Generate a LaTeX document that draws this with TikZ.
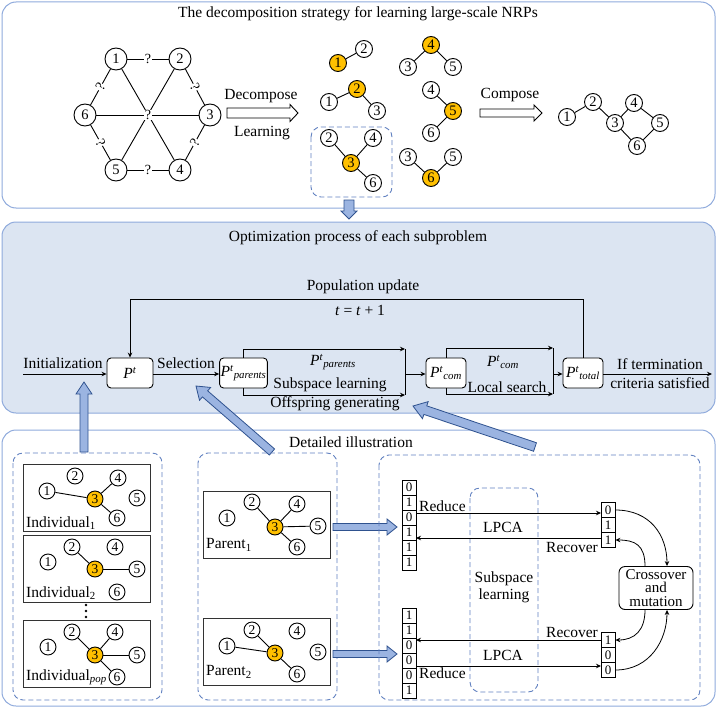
\documentclass[tikz,border=0pt]{standalone}
\usepackage{fontspec}
\setmainfont{Liberation Serif}
\newfontfamily\tnr{Liberation Serif}
\usetikzlibrary{calc,arrows.meta}
\definecolor{panelblue}{RGB}{143,170,220}
\definecolor{midfill}{RGB}{220,229,242}
\definecolor{dashblue}{RGB}{96,128,192}
\definecolor{gold}{RGB}{255,192,0}
\definecolor{arrfill}{RGB}{155,180,225}
\definecolor{arrdraw}{RGB}{47,82,143}
\newcommand\Pv[1]{\textit{P}\textsuperscript{\textit{t}}\textsubscript{\textit{#1}}}
\newcommand\blockarr[6]{%
  \coordinate (bah) at ($(#3)!#6!(#2)$);
  \draw[#1] ($(#2)!#4!90:(#3)$) -- ($(bah)!#4!90:(#3)$) -- ($(bah)!#5!90:(#3)$) -- (#3)
    -- ($(bah)!#5!-90:(#3)$) -- ($(bah)!#4!-90:(#3)$) -- ($(#2)!#4!-90:(#3)$) -- cycle;}
\begin{document}
\begin{tikzpicture}[x=1pt,y=-1pt,
  panel/.style={draw=panelblue, line width=1pt, rounded corners=14pt},
  dbox/.style={draw=dashblue, dash pattern=on 5pt off 3pt, line width=0.9pt, rounded corners=10pt},
  lab/.style={font=\tnr\fontsize{15.5}{17}\selectfont, inner sep=0pt},
  vA/.style={circle, draw, line width=0.9pt, minimum size=22pt, inner sep=0pt, font=\tnr\fontsize{14.5}{14}\selectfont, fill=white},
  vB/.style={vA, minimum size=17pt},
  vC/.style={vA, minimum size=16pt, font=\tnr\fontsize{13.5}{13}\selectfont},
  hot/.style={fill=gold},
  ln/.style={draw, line width=0.9pt},
  q/.style={fill=white, inner sep=0.6pt, font=\tnr\fontsize{14}{14}\selectfont},
  pbox/.style={draw, rounded corners=4pt, fill=white, minimum height=30pt, inner sep=1pt, line width=0.9pt, font=\tnr\fontsize{15.5}{17}\selectfont},
  cell/.style={draw, minimum width=14pt, minimum height=15pt, inner sep=0pt, font=\tnr\fontsize{13}{12}\selectfont, line width=0.8pt},
  arr/.style={-{Stealth[length=5pt,width=4.5pt]}, line width=0.8pt},
  hollow/.style={draw, line width=0.9pt, fill=white},
  bluearr/.style={draw=arrdraw, fill=arrfill, line width=0.8pt},
  indbox/.style={draw=black!80, line width=0.9pt, minimum width=127pt, minimum height=67pt, inner sep=0pt}
]
\useasboundingbox (0,0) rectangle (720,709);
% panels
\draw[panel] (2,2) rectangle (715,208);
\draw[panel, fill=midfill] (2,222) rectangle (715,413);
\draw[panel] (2,430) rectangle (715,706);
\node[lab] (t1) at (358,14) {The decomposition strategy for learning large-scale NRPs};
\node[lab] (t2) at (358,238) {Optimization process of each subproblem};
\node[lab] (t3) at (351,442) {Detailed illustration};

% ---------- top: hexagon graph
\node[vA] (h1) at (116,59) {1};
\node[vA] (h2) at (180,59) {2};
\node[vA] (h3) at (210,115) {3};
\node[vA] (h4) at (180,170) {4};
\node[vA] (h5) at (116,170) {5};
\node[vA] (h6) at (85,115) {6};
\draw[ln] (h1) -- (h4);
\draw[ln] (h2) -- (h5);
\draw[ln] (h6) -- (h3);
\node[q] (qc) at (148,115) {?};
\draw[ln] (h1) -- node[q]{?} (h2);
\draw[ln] (h2) -- node[q,sloped]{?} (h3);
\draw[ln] (h3) -- node[q,sloped]{?} (h4);
\draw[ln] (h4) -- node[q]{?} (h5);
\draw[ln] (h5) -- node[q,sloped]{?} (h6);
\draw[ln] (h6) -- node[q,sloped]{?} (h1);

% decompose arrow
\coordinate (dA) at (227,113);
\coordinate (dB) at (298,113);
\blockarr{hollow}{dA}{dB}{5pt}{8.5pt}{8pt}
\node[lab] (tdec) at (261,96) {Decompose};
\node[lab] (tlea) at (262,133) {Learning};

% subgraphs
\node[vB,hot] (a1) at (338,63) {1};
\node[vB] (a2) at (364,49) {2};
\draw[ln] (a1) -- (a2);
\node[vB,hot] (b2) at (357,89) {2};
\node[vB] (b1) at (329,102) {1};
\node[vB] (b3) at (377,111) {3};
\draw[ln] (b2) -- (b1); \draw[ln] (b2) -- (b3);
\draw[dbox] (311,127) rectangle (392,197);
\node[vB] (c2) at (329,138) {2};
\node[vB] (c4) at (373,138) {4};
\node[vB,hot] (c3) at (351,163) {3};
\node[vB] (c6) at (373,183) {6};
\draw[ln] (c3) -- (c2); \draw[ln] (c3) -- (c4); \draw[ln] (c3) -- (c6);
\node[vB,hot] (d4) at (431,45) {4};
\node[vB] (d3) at (408,67) {3};
\node[vB] (d5) at (453,67) {5};
\draw[ln] (d4) -- (d3); \draw[ln] (d4) -- (d5);
\node[vB] (e4) at (431,90) {4};
\node[vB,hot] (e5) at (453,111) {5};
\node[vB] (e6) at (431,133) {6};
\draw[ln] (e5) -- (e4); \draw[ln] (e5) -- (e6);
\node[vB] (f3) at (408,157) {3};
\node[vB] (f5) at (453,157) {5};
\node[vB,hot] (f6) at (431,178) {6};
\draw[ln] (f6) -- (f3); \draw[ln] (f6) -- (f5);

% compose arrow
\coordinate (cA) at (480,113);
\coordinate (cB) at (542,113);
\blockarr{hollow}{cA}{cB}{4pt}{8pt}{8pt}
\node[lab] (tcom) at (510,95) {Compose};
\node[vB] (g1) at (567,117) {1};
\node[vB] (g2) at (593,102) {2};
\node[vB] (g3) at (615,123) {3};
\node[vB] (g4) at (634,103) {4};
\node[vB] (g5) at (660,123) {5};
\node[vB] (g6) at (637,146) {6};
\draw[ln] (g1) -- (g2); \draw[ln] (g2) -- (g3); \draw[ln] (g3) -- (g4);
\draw[ln] (g4) -- (g5); \draw[ln] (g5) -- (g6); \draw[ln] (g6) -- (g3);

% arrow top -> middle
\coordinate (tmA) at (349,200);
\coordinate (tmB) at (349,219);
\blockarr{bluearr}{tmA}{tmB}{5pt}{8pt}{8pt}

% ---------- middle panel
\node[lab] (tpop) at (363,287) {Population update};
\node[lab] (tt) at (360,310) {\textit{t} = \textit{t} + 1};
\node[pbox, minimum width=46pt] (Pt) at (130,373) {\textit{P}\textsuperscript{\textit{t}}};
\node[pbox, minimum width=47pt] (Ppar) at (243.5,373) {\Pv{parents}};
\node[pbox, minimum width=40pt] (Pcom) at (446,373) {\Pv{com}};
\node[pbox, minimum width=40pt] (Ptot) at (583,373) {\Pv{total}};
\coordinate (init) at (23,374);
\draw[arr] (init) -- (Pt.west |- init);
\node[lab] (tinit) at (63,363) {Initialization};
\draw[arr] (Pt.east |- init) -- (Ppar.west |- init);
\node[lab] (tsel) at (186,363) {Selection};
\coordinate (j1t) at (405,349);
\coordinate (j1b) at (405,395);
\coordinate (j1m) at (405,374);
\draw[arr] (Ppar.north) |- (j1t);
\draw[arr] (Ppar.south) |- (j1b);
\draw[line width=0.8pt] (j1t) -- (j1b);
\draw[arr] (j1m) -- (Pcom.west |- j1m);
\node[lab] (lpp) at (333,362) {\Pv{parents}};
\node[lab] (lsl) at (330,385) {Subspace learning};
\node[lab] (log) at (335,404) {Offspring generating};
\coordinate (j2t) at (553,348);
\coordinate (j2b) at (553,394);
\coordinate (j2m) at (553,374);
\draw[arr] (Pcom.north) |- (j2t);
\draw[arr] (Pcom.south) |- (j2b);
\draw[line width=0.8pt] (j2t) -- (j2b);
\draw[arr] (j2m) -- (Ptot.west |- j2m);
\node[lab] (lpc) at (503,362) {\Pv{com}};
\node[lab] (lls) at (507,387) {Local search};
\coordinate (fbR) at (583,299);
\coordinate (fbL) at (130,299);
\draw[arr] (Ptot.north) -- (fbR) -- (fbL) -- (Pt.north);
\coordinate (outp) at (712,374);
\draw[arr] (Ptot.east |- outp) -- (outp);
\node[lab] (lif) at (660,364) {If termination};
\node[lab] (lcr) at (660,383) {criteria satisfied};

% ---------- bottom panel
\coordinate (u1A) at (84,452);
\coordinate (u1B) at (84,382);
\blockarr{bluearr}{u1A}{u1B}{4pt}{8pt}{12pt}
\coordinate (u2A) at (272,452);
\coordinate (u2B) at (196,386);
\blockarr{bluearr}{u2A}{u2B}{4pt}{8.5pt}{12pt}
\coordinate (u3A) at (535,447);
\coordinate (u3B) at (413,406);
\blockarr{bluearr}{u3A}{u3B}{4.5pt}{9pt}{13pt}

% individuals
\draw[dbox] (13,453) rectangle (162,700);
\node[indbox] (ind1) at (86.5,497.5) {};
\node[indbox] (ind2) at (86.5,568.5) {};
\node[indbox] (ind3) at (86.5,653.5) {};
\node[vC] (p12) at (75,476) {2};
\node[vC] (p14) at (118,478) {4};
\node[vC] (p11) at (47,491) {1};
\node[vC,hot] (p13) at (95,499) {3};
\node[vC] (p15) at (137,498) {5};
\node[vC] (p16) at (117,518) {6};
\draw[ln] (p13) -- (p11); \draw[ln] (p13) -- (p14); \draw[ln] (p13) -- (p16);
\node[lab, anchor=west] (li1) at (26,523) {Individual\textsubscript{1}};
\node[vC] (p22) at (72,547) {2};
\node[vC] (p24) at (115,547) {4};
\node[vC] (p21) at (48,562) {1};
\node[vC,hot] (p23) at (95,569) {3};
\node[vC] (p25) at (137,569) {5};
\node[vC] (p26) at (117,592) {6};
\draw[ln] (p23) -- (p22); \draw[ln] (p23) -- (p25);
\node[lab, anchor=west] (li2) at (26,593) {Individual\textsubscript{2}};
\fill (86,605) circle (1.4pt) (86,611) circle (1.4pt) (86,617) circle (1.4pt);
\node[vC] (p32) at (72,632) {2};
\node[vC] (p34) at (115,632) {4};
\node[vC] (p31) at (48,647) {1};
\node[vC,hot] (p33) at (95,655) {3};
\node[vC] (p35) at (137,655) {5};
\node[vC] (p36) at (117,677) {6};
\draw[ln] (p33) -- (p32); \draw[ln] (p33) -- (p34); \draw[ln] (p33) -- (p35); \draw[ln] (p33) -- (p36);
\node[lab, anchor=west] (li3) at (26,677) {Individual\textsubscript{\textit{pop}}};

% parents
\draw[dbox] (198,453) rectangle (337,700);
\node[indbox] (par1) at (266.5,524.5) {};
\node[indbox] (par2) at (266.5,651.5) {};
\node[vC] (q12) at (252,502) {2};
\node[vC] (q14) at (297,504) {4};
\node[vC] (q11) at (227,518) {1};
\node[vC,hot] (q13) at (275,527) {3};
\node[vC] (q15) at (318,526) {5};
\node[vC] (q16) at (297,547) {6};
\draw[ln] (q13) -- (q12); \draw[ln] (q13) -- (q14); \draw[ln] (q13) -- (q15); \draw[ln] (q13) -- (q16);
\node[lab, anchor=west] (lp1) at (206,545) {Parent\textsubscript{1}};
\node[vC] (q22) at (252,630) {2};
\node[vC] (q24) at (297,631) {4};
\node[vC] (q21) at (227,646) {1};
\node[vC,hot] (q23) at (275,653) {3};
\node[vC] (q25) at (318,652) {5};
\node[vC] (q26) at (297,674) {6};
\draw[ln] (q23) -- (q22); \draw[ln] (q23) -- (q21); \draw[ln] (q23) -- (q26);
\node[lab, anchor=west] (lp2) at (206,672) {Parent\textsubscript{2}};
\coordinate (r1A) at (333,527);
\coordinate (r1B) at (397,527);
\blockarr{bluearr}{r1A}{r1B}{3.5pt}{8pt}{10pt}
\coordinate (r2A) at (333,654);
\coordinate (r2B) at (397,654);
\blockarr{bluearr}{r2A}{r2B}{3.5pt}{8pt}{10pt}

% right part
\draw[dbox] (379,455) rectangle (700,700);
\draw[dbox] (470,488) rectangle (538,692);
\node[lab, align=center] (lsub) at (504,587) {Subspace\\learning};
\foreach \v [count=\i] in {0,1,0,1,1,1} {
  \node[cell] (L1\i) at (409,472.5+15*\i) {\v};
}
\foreach \v [count=\i] in {1,1,0,0,0,1} {
  \node[cell] (L2\i) at (409,600.5+15*\i) {\v};
}
\foreach \v [count=\i] in {0,1,1} {
  \node[cell] (R1\i) at (608,495+15*\i) {\v};
}
\foreach \v [count=\i] in {1,0,0} {
  \node[cell] (R2\i) at (608,625+15*\i) {\v};
}
\coordinate (rd1s) at (416,513);
\coordinate (rd1e) at (601,513);
\draw[arr] (rd1s) -- (rd1e);
\node[lab, anchor=west] (lrd1) at (419,506) {Reduce};
\node[lab] (llp1) at (503,527) {LPCA};
\coordinate (rc1s) at (601,538);
\coordinate (rc1e) at (416,538);
\draw[arr] (rc1s) -- (rc1e);
\node[lab, anchor=east] (lrc1) at (598,547) {Recover};
\coordinate (rc2s) at (601,640);
\coordinate (rc2e) at (416,640);
\draw[arr] (rc2s) -- (rc2e);
\node[lab, anchor=east] (lrc2) at (598,632) {Recover};
\node[lab] (llp2) at (503,655) {LPCA};
\coordinate (rd2s) at (416,666);
\coordinate (rd2e) at (601,666);
\draw[arr] (rd2s) -- (rd2e);
\node[lab, anchor=west] (lrd2) at (419,673) {Reduce};
\node[draw, rounded corners=6pt, fill=white, align=center, minimum width=74pt, minimum height=43pt,
  inner sep=1pt, line width=0.9pt, font=\tnr\fontsize{15}{13.5}\selectfont] (cm) at (656,588) {Crossover\\and\\mutation};
\coordinate (cmTR) at ($(cm.north)+(11,0)$);
\coordinate (cmTL) at ($(cm.north)+(-11,0)$);
\coordinate (cmBR) at ($(cm.south)+(11,0)$);
\coordinate (cmBL) at ($(cm.south)+(-11,0)$);
\draw[arr] (R11.east) .. controls (650,510) and (667,535) .. (cmTR);
\draw[arr] (cmTL) .. controls (645,545) and (635,540) .. (R13.east);
\draw[arr] (cmBL) .. controls (645,630) and (635,640) .. (R21.east);
\draw[arr] (R23.east) .. controls (650,670) and (667,640) .. (cmBR);
\end{tikzpicture}
\end{document}
